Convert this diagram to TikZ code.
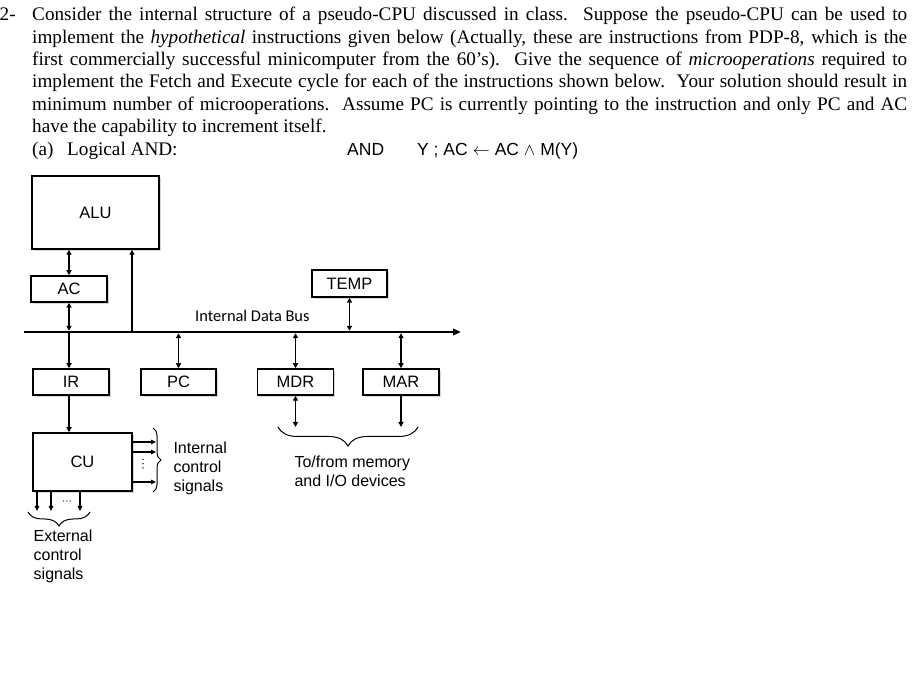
\documentclass[tikz,border=0pt]{standalone}
\usepackage{fontspec}
\setmainfont{Liberation Serif}
\newfontfamily\arialf{Liberation Sans}
\newfontfamily\calibrif{Carlito}
\usetikzlibrary{arrows.meta,shadows,decorations.pathreplacing}
\newcommand{\mylines}[1]{\begin{tabular}[t]{@{}l@{}}#1\end{tabular}}
\newcommand{\sspc}{\hspace{0.5em plus 0.3em minus 0.2em}}
\begin{document}
\begin{tikzpicture}[x=1pt,y=-1pt,
  box/.style={draw, line width=1.5pt, minimum height=26pt, minimum width=76pt, inner sep=0pt,
    font=\arialf\fontsize{16.5}{19}\selectfont, fill=white,
    drop shadow={shadow xshift=1.6pt,shadow yshift=-1.6pt,opacity=0.3}},
  arr/.style={line width=1.5pt, -{Triangle[length=5pt,width=5pt]}},
  darr/.style={line width=1.5pt, {Triangle[length=5pt,width=5pt]}-{Triangle[length=5pt,width=5pt]}},
  sarr/.style={line width=1.2pt, -{Triangle[length=5pt,width=4.6pt]}},
  lbl/.style={anchor=base west, inner sep=0pt, font=\arialf\fontsize{16}{18.7}\selectfont},
  brc/.style={decorate, line width=1pt},
  para/.style={anchor=base west, inner sep=0pt, font=\fontsize{19.2}{22.4}\selectfont}
]
\fill[white] (0,0) rectangle (922,692);
\useasboundingbox (0,0) rectangle (922,692);

% ---- question text ----
\node[para] (n2) at (-0.5,20.7) {2-};
\node[para] (l1) at (32,20.7) {\makebox[875pt][s]{Consider the internal structure of a pseudo-CPU discussed in class.\sspc Suppose the pseudo-CPU can be used to}};
\node[para] (l2) at (32,43.1) {\makebox[875pt][s]{implement the \textit{hypothetical} instructions given below (Actually, these are instructions from PDP-8, which is the}};
\node[para] (l3) at (32,65.5) {\makebox[875pt][s]{first commercially successful minicomputer from the 60's).\sspc Give the sequence of \textit{microoperations} required to}};
\node[para] (l4) at (32,87.9) {\makebox[875pt][s]{implement the Fetch and Execute cycle for each of the instructions shown below.\sspc Your solution should result in}};
\node[para] (l5) at (32,110.3) {\makebox[875pt][s]{minimum number of microoperations.\sspc Assume PC is currently pointing to the instruction and only PC and AC}};
\node[para] (l6) at (32,132.7) {have the capability to increment itself.};
\node[para] (qa) at (32,155.1) {(a)};
\node[para] (qb) at (67,155.1) {Logical AND:};
\node[para, font=\arialf\fontsize{17.5}{20}\selectfont] (qc) at (347,155.1) {AND};
\node[para, font=\arialf\fontsize{17.5}{20}\selectfont] (qd) at (417,155.1) {Y ; AC $\leftarrow$ AC $\wedge$ M(Y)};

% ---- boxes ----
\node[box, minimum width=127pt, minimum height=73pt] (alu) at (95.5,212.5) {ALU};
\node[box] (ac) at (69,289) {AC};
\node[box, minimum width=75pt, minimum height=27pt] (temp) at (349.5,283.5) {TEMP};
\node[box] (ir) at (71,382) {IR};
\node[box, minimum width=75pt] (pc) at (178.5,382) {PC};
\node[box] (mdr) at (295.5,382) {MDR};
\node[box] (mar) at (401,382) {MAR};
\node[box, minimum width=99pt, minimum height=58pt] (cu) at (82.5,462) {CU};

% ---- bus ----
\coordinate (busL) at (24,332);
\coordinate (busR) at (461,332);
\draw[line width=2.2pt, -{Triangle[length=8pt,width=6.5pt]}] (busL) -- (busR);
\node[inner sep=0pt, anchor=base west, font=\calibrif\fontsize{16.4}{19}\selectfont] (busl) at (195,321.7) {Internal Data Bus};

% ---- connectors ----
\draw[darr] (ac.north) -- (ac.north |- alu.south);
\draw[darr, shorten >=1.2pt] (ac.south) -- (ac.south |- busL);
\draw[arr] (ac.south |- busL) -- (ac.south |- ir.north);
\coordinate (aluin) at (132,332);
\draw[arr] (aluin) -- (aluin |- alu.south);
\draw[darr, shorten >=1.2pt] (temp.south) -- (temp.south |- busL);
\draw[darr, shorten <=1.2pt] (pc.north |- busL) -- (pc.north);
\draw[darr, shorten <=1.2pt] (mdr.north |- busL) -- (mdr.north);
\draw[darr, shorten <=1.2pt] (mar.north |- busL) -- (mar.north);
\coordinate (memL) at (295,427);
\draw[darr] (mdr.south) -- (mdr.south |- memL);
\draw[arr] (mar.south) -- (mar.south |- memL);
\draw[arr] (ir.south -| ac.south) -- (ac.south |- cu.north);

% internal control signals
\coordinate (i1) at (156,442);
\coordinate (i2) at (156,452);
\coordinate (i3) at (156,482);
\draw[sarr] (i1 -| cu.east) -- (i1);
\draw[sarr] (i2 -| cu.east) -- (i2);
\draw[sarr] (i3 -| cu.east) -- (i3);
\foreach \yy in {459.5,463.7,467.9} \fill (143,\yy) circle (0.75pt);

% external control signals
\coordinate (e1) at (37,511);
\coordinate (e2) at (51,511);
\coordinate (e3) at (80,511);
\draw[sarr] (e1 |- cu.south) -- (e1);
\draw[sarr] (e2 |- cu.south) -- (e2);
\draw[sarr] (e3 |- cu.south) -- (e3);
\foreach \xx in {63.5,66.8,70.1} \fill (\xx,501) circle (0.7pt);

% braces
\draw[brc, decoration={brace, amplitude=8pt}] (153,428) -- (153,492);
\draw[brc, decoration={brace, amplitude=14pt}] (90,512) -- (28,512);
\draw[brc, decoration={brace, amplitude=19pt}] (418,427) -- (278,427);

% labels
\node[lbl] (ics) at (173.3,454) {\mylines{Internal\\control\\signals}};
\node[lbl] (ecs) at (33.5,541.7) {\mylines{External\\control\\signals}};
\node[lbl] (mem) at (294.3,467.7) {\mylines{To/from memory\\and I/O devices}};
\end{tikzpicture}
\end{document}
